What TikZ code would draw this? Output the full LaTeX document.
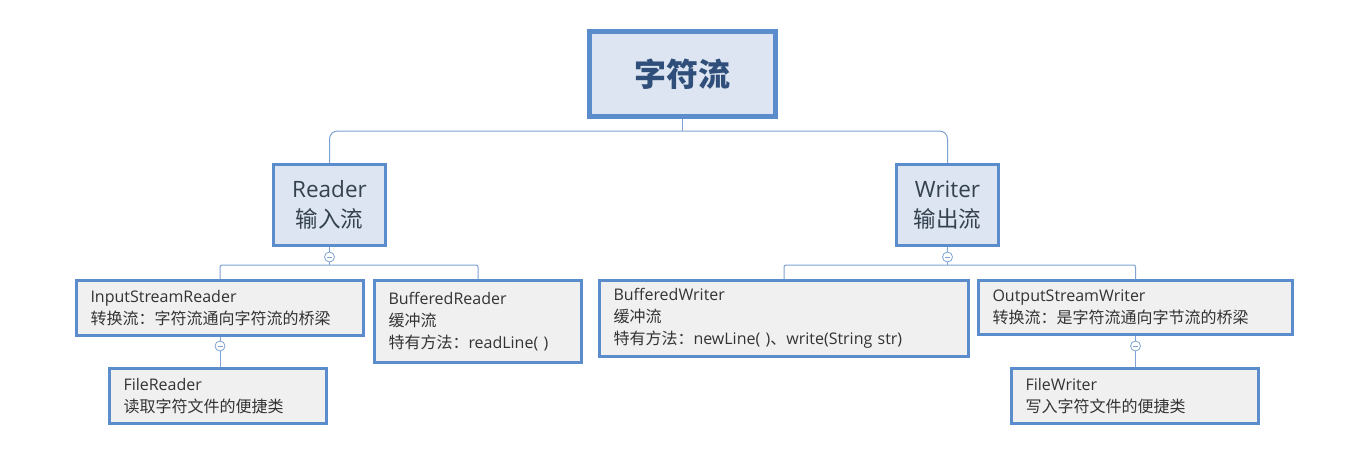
\documentclass[tikz,border=0pt]{standalone}
\usepackage{fontspec}
\setmainfont{Open Sans}
\newfontfamily\cjk{Noto Sans CJK SC}
\usetikzlibrary{positioning}

\definecolor{boxblue}{HTML}{5B8CCB}
\definecolor{linkblue}{HTML}{7EA3D4}
\definecolor{rootfill}{HTML}{DCE5F1}
\definecolor{leaffill}{HTML}{F0F0F0}
\definecolor{roottext}{HTML}{2F4F7A}
\definecolor{nodetext}{HTML}{34414F}

\tikzset{
  rootbox/.style={draw=boxblue, line width=5pt, fill=rootfill, text=roottext,
    font=\fontsize{32}{38}\selectfont\cjk\bfseries, inner sep=0pt},
  streambox/.style={draw=boxblue, line width=3pt, fill=rootfill, text=nodetext,
    font=\fontsize{22.5}{30}\selectfont, align=center, inner sep=0pt},
  classbox/.style={draw=boxblue, line width=3pt, fill=leaffill, text=black!80,
    font=\fontsize{16}{22}\selectfont, align=left, inner xsep=14pt, inner ysep=0pt},
  link/.style={draw=linkblue, line width=1pt},
  foldmark/.style={circle, draw=linkblue, fill=white, line width=0.8pt,
    minimum size=10pt, inner sep=0pt,
    path picture={\draw[linkblue, line width=0.8pt]
      ([xshift=-2.5pt]path picture bounding box.center) --
      ([xshift=2.5pt]path picture bounding box.center);}}
}

\begin{document}
\begin{tikzpicture}[x=1pt, y=-1pt]
    \fill[white] (0,0) rectangle (1363,451);
    \useasboundingbox (0,0) rectangle (1363,451);
    %
    \node (root)   [rootbox, minimum width=186pt, minimum height=85pt] at (682.5,74) {字符流};
    \node (reader) [streambox, minimum width=112pt, minimum height=81pt] at (329.5,205) {Reader\\{\cjk 输入流}};
    \node (writer) [streambox, minimum width=102pt, minimum height=81pt] at (947.5,205) {Writer\\{\cjk 输出流}};
    %
    \node (isr) [classbox, text width=259pt, minimum height=55pt] at (220,308)
        {InputStreamReader\\{\cjk 转换流：字符流通向字符流的桥梁}};
    \node (bfr) [classbox, text width=179pt, minimum height=82pt] at (478,321.5)
        {BufferedReader\\{\cjk 缓冲流}\\{\cjk 特有方法：}readLine( )};
    \node (frd) [classbox, text width=189pt, minimum height=55pt] at (218,396)
        {FileReader\\{\cjk 读取字符文件的便捷类}};
    \node (bfw) [classbox, text width=341pt, minimum height=76pt] at (784,318.5)
        {BufferedWriter\\{\cjk 缓冲流}\\{\cjk 特有方法：}newLine( ){\cjk 、}write(String str)};
    \node (osw) [classbox, text width=286pt, minimum height=54pt] at (1135.5,307.5)
        {OutputStreamWriter\\{\cjk 转换流：是字符流通向字节流的桥梁}};
    \node (fwr) [classbox, text width=219pt, minimum height=55pt] at (1135,396)
        {FileWriter\\{\cjk 写入字符文件的便捷类}};
    %
    \node (rdot) [foldmark] at (329.5,257) {};
    \node (wdot) [foldmark] at (947.5,257) {};
    \node (idot) [foldmark] at (220,346) {};
    \node (odot) [foldmark] at (1135.5,346) {};
    %
    \coordinate (topfork) at (682.5,131);
    \coordinate (rfork) at (329.5,265);
    \coordinate (wfork) at (947.5,265);
    %
    \draw [link] (root) -- (topfork);
    \draw [link, rounded corners=8pt] (topfork) -| (reader);
    \draw [link, rounded corners=8pt] (topfork) -| (writer);
    %
    \draw [link] (reader) -- (rdot);
    \draw [link] (rdot) -- (rfork);
    \draw [link, rounded corners=2pt] (rfork) -| (isr);
    \draw [link, rounded corners=2pt] (rfork) -| (bfr);
    %
    \draw [link] (writer) -- (wdot);
    \draw [link] (wdot) -- (wfork);
    \draw [link, rounded corners=2pt] (wfork) -| (bfw);
    \draw [link, rounded corners=2pt] (wfork) -| (osw);
    %
    \draw [link] (isr) -- (idot);
    \draw [link] (idot) -- (idot |- frd.north);
    \draw [link] (osw) -- (odot);
    \draw [link] (odot) -- (odot |- fwr.north);
\end{tikzpicture}
\end{document}
